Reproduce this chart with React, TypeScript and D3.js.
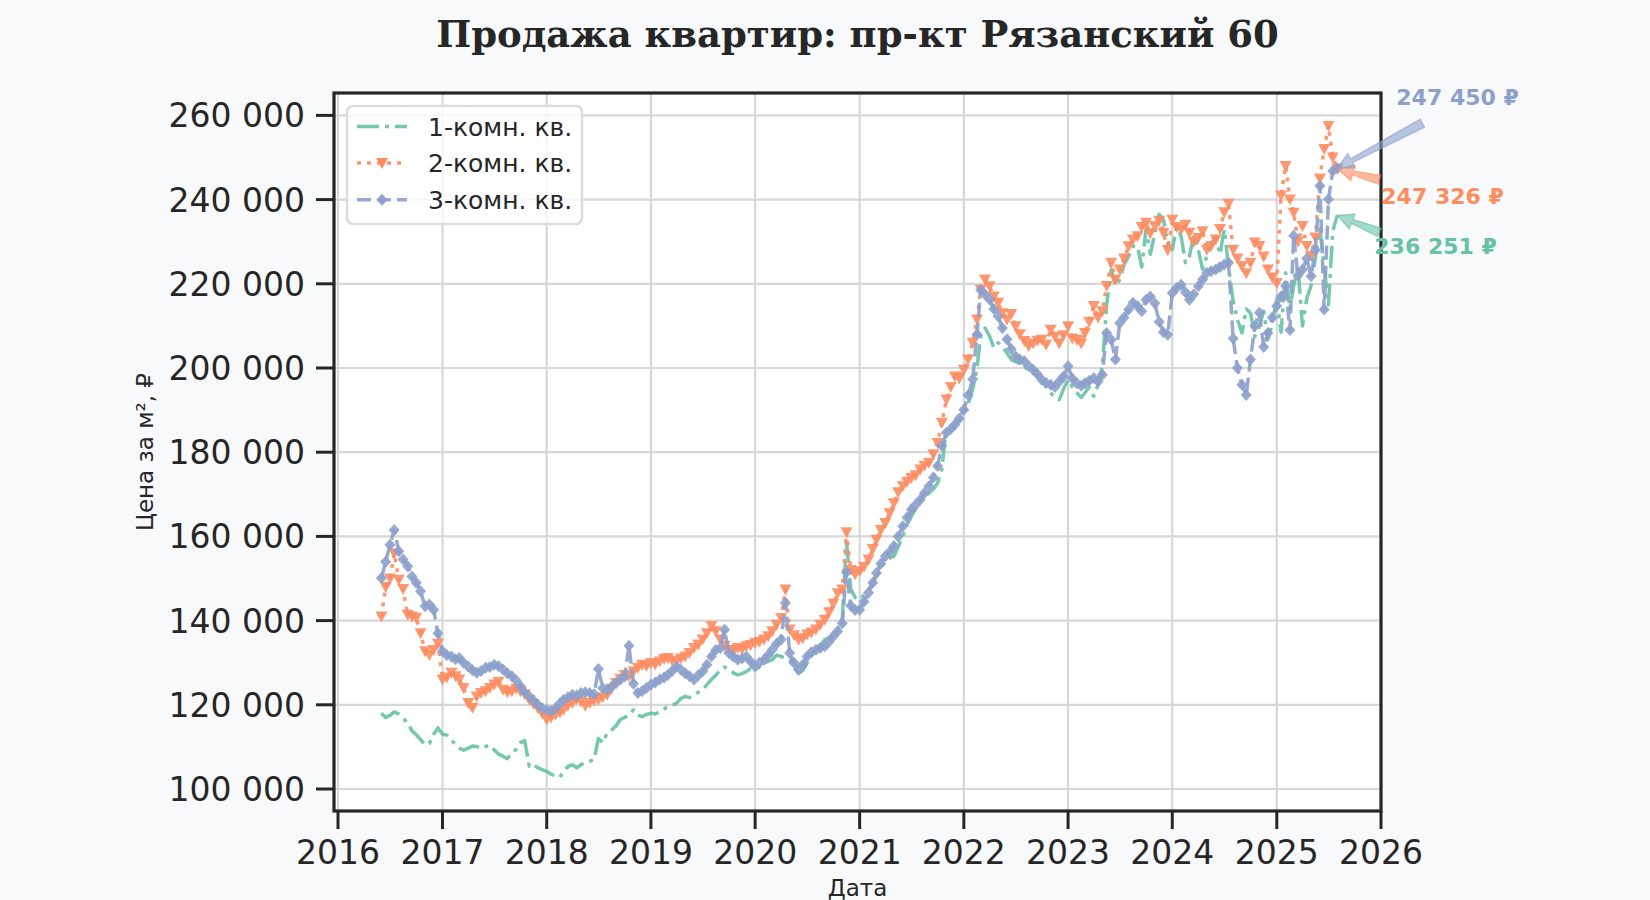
import { useEffect, useRef } from 'react';
import * as d3 from 'd3';

// observations on the 1st and 16th of each month, Jun 2016 .. Aug 2025
const startMonth = new Date(2016, 5, 1);
const lastMonth = new Date(2025, 7, 1);

const oneRoom = [
  118000, 117000, 117500, 118300, 117800, 116800, 115700, 113800, 112900, 111800, 110500, 110800, 113000, 114500,
  113000, 112800, 111700, 110500, 109700, 109200, 109700, 110200, 110100, 109600, 110100, 110400,
  109300, 108300, 107800, 107200, 108600, 109400, 111000, 111500, 105400, 105800, 105000, 104600,
  104200, 103500, 103000, 102800, 104200, 105300, 105800, 105000, 105800, 106300, 106600, 107000,
  112000, 111000, 113300, 114000, 115000, 116500, 117000, 117600, 118800, 117500, 117200, 117700,
  118000, 117800, 118400, 119000, 119600, 119800, 120400, 121500, 122000, 121700, 122400, 123000,
  123500, 124800, 126000, 127000, 128300, 129000, 128300, 127600, 127100, 127400, 127900, 128600,
  128300, 129000, 129900, 130300, 130700, 131800, 131500, 131000, 130700, 129000, 127500, 128200,
  129900, 131500, 133100, 134000, 135500, 135900, 136500, 138000, 140200, 158500, 147400, 145500,
  145000, 146200, 147400, 149000, 150500, 152500, 154100, 154800, 155300, 157500, 160000, 162800,
  164800, 166500, 168000, 169500, 170300, 171200, 172700, 176000, 186200, 185000, 186200, 187800,
  189300, 191500, 194900, 200000, 207600, 209500, 207600, 204800, 206000, 205000, 203600, 202000,
  201500, 201000, 200400, 199200, 198800, 198000, 197200, 195500, 194100, 193000, 192500, 195000,
  197200, 195500, 194100, 193000, 194100, 195500, 193300, 196000, 200400, 215000, 223400, 219500,
  221000, 224500, 226500, 229000, 228900, 224000, 233000, 227000, 232100, 236500, 235200, 229500,
  228100, 233500, 231300, 225000, 226500, 231500, 228100, 223500, 226500, 229500, 231300, 227000,
  232900, 224000, 216000, 211500, 208300, 214000, 213100, 207500, 209900, 213500, 206700, 210500,
  216300, 208500, 222600, 214000, 219500, 224000, 210000, 216500, 219500, 226000, 233000, 224000,
  215000, 232500, 236251,
];

const twoRoom = [
  141000, 148000, 150000, 156000, 149700, 147500, 141400, 141000, 140600, 137000, 132700, 131800, 133000, 134500,
  126000, 126500, 127600, 126800, 126000, 124000, 120400, 119300, 122000, 122800, 123200, 124000,
  124800, 125500, 123600, 123000, 123200, 123800, 123200, 122500, 121200, 120200, 119200, 118000,
  116500, 117000, 117700, 118200, 118800, 119800, 120400, 121300, 120800, 119800, 120400, 121000,
  121200, 121800, 122400, 123800, 125200, 126200, 127100, 126800, 127900, 128800, 129500, 129200,
  129900, 129600, 130300, 130900, 131100, 130500, 130300, 131000, 131500, 132300, 133500, 134300,
  135500, 137000, 138700, 137500, 135500, 134000, 133100, 132800, 133500, 133200, 133900, 134200,
  134700, 135000, 135500, 136300, 137500, 139000, 140600, 147400, 137900, 136500, 135500, 135800,
  136700, 137200, 137900, 139000, 140200, 142000, 144000, 146500, 147400, 161000, 152000, 151000,
  151700, 152800, 154500, 157000, 159200, 161500, 163200, 165500, 167900, 170500, 171900, 173000,
  173900, 174500, 175900, 176800, 177500, 179500, 182200, 187000, 192500, 195500, 198000, 197500,
  199600, 202000, 206000, 211500, 218600, 221000, 219400, 217000, 215500, 213000, 211500, 212800,
  209900, 208000, 206400, 205200, 205900, 206500, 206700, 205500, 209100, 207500, 205900, 207800,
  209900, 207000, 206700, 205800, 208300, 211000, 214700, 212000, 213500, 219500, 225000, 221000,
  223400, 226000, 228900, 230500, 231300, 233500, 234500, 232000, 233700, 235000, 232100, 228000,
  235200, 233500, 232900, 234000, 232100, 230000, 230900, 232500, 228100, 229000, 230500, 233000,
  237000, 239000, 228100, 226000, 224200, 222500, 225000, 229800, 229000, 226500, 223400, 221500,
  220200, 241000, 248000, 240000, 236900, 230000, 233700, 229000, 226600, 231000, 245000, 252000,
  257500, 250000, 247326,
];

const threeRoom = [
  150100, 154000, 158000, 161500, 156500, 154500, 152900, 150500, 149000, 147000, 143400, 143800, 142600, 137000,
  132700, 131800, 131500, 130800, 131100, 130000, 129100, 128200, 127600, 128000, 128800, 129000,
  129500, 129200, 128400, 127500, 126800, 125800, 124400, 123000, 122000, 121000, 120000, 119200,
  118800, 118500, 119200, 120300, 121200, 121800, 122400, 122200, 122800, 123000, 122800, 122500,
  128500, 124000, 123600, 124300, 125200, 126000, 126700, 134000, 125000, 122800, 123200, 124000,
  124800, 125300, 126000, 126500, 127100, 128000, 129100, 128300, 127500, 126800, 126000, 127000,
  127900, 129500, 131500, 133000, 133500, 137800, 132300, 131500, 130700, 131000, 131500, 130300,
  129100, 130000, 130700, 131800, 133100, 134500, 135500, 144200, 132300, 130000, 128300, 129500,
  131500, 132500, 133100, 133500, 133900, 135000, 136300, 137500, 139400, 151500, 143500, 142500,
  142600, 144500, 146600, 149000, 151300, 153500, 155300, 156300, 157700, 160000, 162400, 164500,
  166400, 167500, 168700, 170300, 171900, 174000, 176700, 181500, 184600, 185500, 186600, 188000,
  190100, 193500, 197300, 208000, 218500, 217500, 216300, 214000, 212300, 209500, 206800, 204500,
  202800, 202000, 201600, 200500, 199600, 198500, 197200, 196500, 196000, 195500, 196800, 198000,
  200400, 197500, 196400, 195800, 196400, 197000, 197600, 196800, 198400, 208300, 206700, 202000,
  210700, 212000, 213900, 215500, 214700, 213500, 216200, 217000, 215400, 211000, 208500, 207900,
  217800, 219000, 219800, 218000, 216200, 217500, 219400, 221000, 222600, 223000, 223400, 224000,
  224600, 225000, 207000, 200000, 196000, 193600, 202000, 210000, 213100, 205000, 208300, 212000,
  214700, 217000, 219500, 209000, 231400, 222000, 223400, 226000, 221800, 228000, 243300, 213900,
  240100, 246800, 247450,
];

const seriesNames = ['1-комн. кв.', '2-комн. кв.', '3-комн. кв.'];
const seriesColors = ['#66c2a5', '#fc8d62', '#8da0cb'];
const yTicks = [100000, 120000, 140000, 160000, 180000, 200000, 220000, 240000, 260000];
const xTickYears = [2016, 2017, 2018, 2019, 2020, 2021, 2022, 2023, 2024, 2025, 2026];

const W = 1650;
const H = 900;
const box = { left: 334, right: 1381, top: 93, bottom: 811 };

const styles = [
  { dash: '22 6 4 6', marker: null as string | null },
  { dash: '4 6', marker: 'M-6,-5L6,-5L0,6Z' },
  { dash: '14 6', marker: 'M0,-6L5.5,0L0,6L-5.5,0Z' },
];

// annotation offsets (text / arrow tail) relative to the last point
const notes = [
  { text: [37, 39], tail: [42, 17] },
  { text: [44, 35], tail: [42, 11] },
  { text: [59, -63], tail: [85, -45] },
];

const ruLocale = d3.formatLocale({ decimal: ',', thousands: '\u00a0', grouping: [3], currency: ['', ''] });
const fmt = ruLocale.format(',d');

function arrowPath(x1: number, y1: number, x2: number, y2: number, tw: number, sw: number, hw: number, hl: number) {
  const dx = x2 - x1;
  const dy = y2 - y1;
  const len = Math.hypot(dx, dy);
  const ux = dx / len;
  const uy = dy / len;
  const nx = -uy;
  const ny = ux;
  const bx = x2 - ux * hl;
  const by = y2 - uy * hl;
  const pts = [
    [x1 + nx * tw / 2, y1 + ny * tw / 2],
    [bx + nx * sw / 2, by + ny * sw / 2],
    [bx + nx * hw / 2, by + ny * hw / 2],
    [x2, y2],
    [bx - nx * hw / 2, by - ny * hw / 2],
    [bx - nx * sw / 2, by - ny * sw / 2],
    [x1 - nx * tw / 2, y1 - ny * tw / 2],
  ];
  return 'M' + pts.map((p) => p.join(',')).join('L') + 'Z';
}

export default function App() {
  const svgRef = useRef<SVGSVGElement | null>(null);

  useEffect(() => {
    const svgEl = svgRef.current;
    if (!svgEl) return;
    const svg = d3.select(svgEl);
    svg.selectAll('*').remove();

    const dates: Date[] = [];
    d3.timeMonth.range(startMonth, lastMonth).forEach((m) => {
      dates.push(m, d3.timeDay.offset(m, 15));
    });
    dates.push(lastMonth);
    const allSeries = [oneRoom, twoRoom, threeRoom];

    const x = d3.scaleTime().domain([new Date(2015, 11, 18), new Date(2026, 0, 1)]).range([box.left, box.right]);
    const y = d3.scaleLinear().domain([94775, 265320]).range([box.bottom, box.top]);

    svg.append('rect').attr('width', W).attr('height', H).attr('fill', '#f8f9fb');
    svg.append('rect')
      .attr('x', box.left).attr('y', box.top)
      .attr('width', box.right - box.left).attr('height', box.bottom - box.top)
      .attr('fill', '#ffffff');

    // grid
    const grid = svg.append('g').attr('stroke', '#d7d7d7').attr('stroke-width', 2.2);
    grid.selectAll('line.v').data(xTickYears).join('line')
      .attr('x1', (d) => x(new Date(d, 0, 1))).attr('x2', (d) => x(new Date(d, 0, 1)))
      .attr('y1', box.top).attr('y2', box.bottom);
    grid.selectAll('line.h').data(yTicks).join('line')
      .attr('x1', box.left).attr('x2', box.right)
      .attr('y1', (d) => y(d)).attr('y2', (d) => y(d));

    svg.append('clipPath').attr('id', 'plotclip').append('rect')
      .attr('x', box.left).attr('y', box.top)
      .attr('width', box.right - box.left).attr('height', box.bottom - box.top);

    const plot = svg.append('g').attr('clip-path', 'url(#plotclip)');
    allSeries.forEach((values, i) => {
      const pts = values.map((v, j) => [x(dates[j]), y(v)] as [number, number]);
      const line = d3.line<[number, number]>().x((d) => d[0]).y((d) => d[1]);
      const g = plot.append('g');
      g.append('path')
        .attr('d', line(pts))
        .attr('fill', 'none')
        .attr('stroke', seriesColors[i])
        .attr('stroke-opacity', 0.9)
        .attr('stroke-width', 3.5)
        .attr('stroke-dasharray', styles[i].dash)
        .attr('stroke-linejoin', 'round');
      const marker = styles[i].marker;
      if (marker) {
        g.selectAll('path.m').data(pts).join('path')
          .attr('d', marker)
          .attr('transform', (d) => `translate(${d[0]},${d[1]})`)
          .attr('fill', seriesColors[i])
          .attr('fill-opacity', 0.9);
      }
    });

    // spines
    svg.append('rect')
      .attr('x', box.left).attr('y', box.top)
      .attr('width', box.right - box.left).attr('height', box.bottom - box.top)
      .attr('fill', 'none').attr('stroke', '#262626').attr('stroke-width', 3.2);

    // y axis
    const yAxis = svg.append('g').attr('font-family', 'DejaVu Sans').attr('font-size', 33).attr('fill', '#262626');
    yAxis.selectAll('line').data(yTicks).join('line')
      .attr('x1', box.left - 18).attr('x2', box.left)
      .attr('y1', (d) => y(d)).attr('y2', (d) => y(d))
      .attr('stroke', '#262626').attr('stroke-width', 3);
    yAxis.selectAll('text').data(yTicks).join('text')
      .attr('x', box.left - 29).attr('y', (d) => y(d) + 12)
      .attr('text-anchor', 'end')
      .text((d) => fmt(d));

    // x axis
    const xAxis = svg.append('g').attr('font-family', 'DejaVu Sans').attr('font-size', 33).attr('fill', '#262626');
    xAxis.selectAll('line').data(xTickYears).join('line')
      .attr('x1', (d) => x(new Date(d, 0, 1))).attr('x2', (d) => x(new Date(d, 0, 1)))
      .attr('y1', box.bottom).attr('y2', box.bottom + 18)
      .attr('stroke', '#262626').attr('stroke-width', 3);
    xAxis.selectAll('text').data(xTickYears).join('text')
      .attr('x', (d) => x(new Date(d, 0, 1))).attr('y', box.bottom + 53)
      .attr('text-anchor', 'middle')
      .text((d) => String(d));

    svg.append('text')
      .attr('x', (box.left + box.right) / 2).attr('y', 896)
      .attr('text-anchor', 'middle')
      .attr('font-family', 'DejaVu Sans').attr('font-size', 23).attr('fill', '#262626')
      .text('Дата');
    svg.append('text')
      .attr('transform', `translate(153, ${(box.top + box.bottom) / 2}) rotate(-90)`)
      .attr('text-anchor', 'middle')
      .attr('font-family', 'DejaVu Sans').attr('font-size', 23).attr('fill', '#262626')
      .text('Цена за м², ₽');

    svg.append('text')
      .attr('x', (box.left + box.right) / 2).attr('y', 47)
      .attr('text-anchor', 'middle')
      .attr('font-family', 'DejaVu Serif').attr('font-weight', 'bold').attr('font-size', 37).attr('fill', '#262626')
      .text('Продажа квартир: пр-кт Рязанский 60');

    // legend
    const lg = svg.append('g');
    lg.append('rect')
      .attr('x', 347).attr('y', 106).attr('width', 235).attr('height', 118).attr('rx', 6)
      .attr('fill', '#ffffff').attr('fill-opacity', 0.8)
      .attr('stroke', '#dcdcdc').attr('stroke-width', 2.5);
    seriesNames.forEach((name, i) => {
      const cy = 126.5 + i * 36.6;
      lg.append('line')
        .attr('x1', 357).attr('x2', 407).attr('y1', cy).attr('y2', cy)
        .attr('stroke', seriesColors[i]).attr('stroke-opacity', 0.9).attr('stroke-width', 3.5)
        .attr('stroke-dasharray', styles[i].dash);
      const marker = styles[i].marker;
      if (marker) {
        lg.append('path').attr('d', marker).attr('transform', `translate(382,${cy})`)
          .attr('fill', seriesColors[i]);
      }
      lg.append('text')
        .attr('x', 428).attr('y', cy + 9)
        .attr('font-family', 'DejaVu Sans').attr('font-size', 25).attr('fill', '#262626')
        .text(name);
    });

    // annotations for the last values
    allSeries.forEach((values, i) => {
      const last = values[values.length - 1];
      const px = x(dates[values.length - 1]);
      const py = y(last);
      const note = notes[i];
      svg.append('path')
        .attr('d', arrowPath(px + note.tail[0], py + note.tail[1], px, py, 9, 4, 16, 16))
        .attr('fill', seriesColors[i]).attr('fill-opacity', 0.6)
        .attr('stroke', seriesColors[i]).attr('stroke-opacity', 0.6).attr('stroke-width', 1.5);
      svg.append('text')
        .attr('x', px + note.text[0]).attr('y', py + note.text[1])
        .attr('font-family', 'DejaVu Sans').attr('font-weight', 'bold').attr('font-size', 22)
        .attr('fill', seriesColors[i])
        .text(`${fmt(last)} ₽`);
    });
  }, []);

  return (
    <div style={{ position: 'absolute', left: 0, top: 0, width: W, height: H }}>
      <svg ref={svgRef} width={W} height={H} style={{ display: 'block' }} />
    </div>
  );
}
